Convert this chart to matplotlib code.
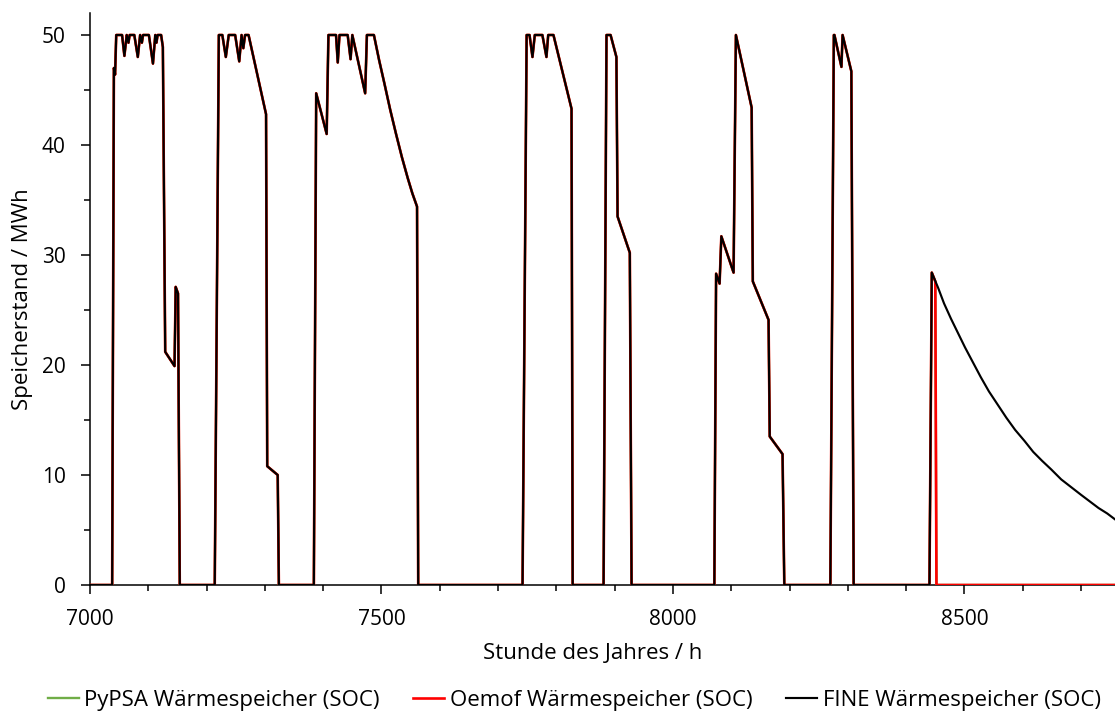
import matplotlib.pyplot as plt
from matplotlib.ticker import MultipleLocator

plt.rcParams['font.family'] = ['Open Sans', 'DejaVu Sans']

# ── Gemeinsamer Verlauf aller Modelle (Stunde, SOC in MWh) ───────────
stunden = [7000, 7038, 7041, 7043, 7045, 7055, 7059, 7063, 7066, 7068,
           7076, 7082, 7086, 7089, 7091, 7101, 7108, 7112, 7114, 7116,
           7122, 7125, 7129, 7145, 7147, 7151, 7154,
           7214, 7221, 7227, 7233, 7238, 7249, 7256, 7260, 7263, 7266,
           7272, 7302, 7304, 7322, 7324,
           7384, 7388, 7406, 7409, 7422, 7425, 7428, 7442, 7447, 7450,
           7472, 7475, 7487, 7496, 7505, 7515, 7525, 7535, 7545, 7553,
           7561, 7563,
           7742, 7749, 7754, 7759, 7763, 7776, 7783, 7786, 7795, 7826, 7828,
           7881, 7886, 7893, 7903, 7905, 7926, 7929,
           8071, 8074, 8080, 8083, 8104, 8108, 8135, 8137, 8164, 8166,
           8188, 8191,
           8270, 8276, 8277, 8289, 8291, 8306, 8310,
           8440]
soc = [0, 0, 47.0, 46.4, 50, 50, 48.1, 50, 49.3, 50,
       50, 48.0, 50, 49.3, 50, 50, 47.4, 50, 49.3, 50,
       50, 48.9, 21.2, 19.9, 27.1, 26.5, 0,
       0, 50, 50, 48.0, 50, 50, 47.6, 50, 48.8, 50,
       50, 42.8, 10.8, 10.0, 0,
       0, 44.7, 41.0, 50, 50, 47.5, 50, 50, 47.8, 50,
       44.7, 50, 50, 47.7, 45.6, 43.2, 41.0, 38.9, 37.0, 35.6,
       34.4, 0,
       0, 50, 50, 48.0, 50, 50, 48.0, 50, 50, 43.3, 0,
       0, 50, 50, 48.0, 33.5, 30.2, 0,
       0, 28.3, 27.4, 31.7, 28.4, 50, 43.4, 27.6, 24.1, 13.5,
       11.9, 0,
       0, 50, 50, 47.1, 50, 46.7, 0,
       0]

# ── Jahresende: FINE entlädt langsam, Oemof/PyPSA gehen auf 0 ────────
fine_end_h = [8444, 8455, 8465, 8477, 8489, 8501, 8514, 8528, 8542, 8557,
              8572, 8587, 8603, 8618, 8633, 8649, 8666, 8683, 8700, 8715,
              8730, 8745, 8760]
fine_end_soc = [28.4, 27.0, 25.6, 24.2, 22.9, 21.6, 20.3, 18.9, 17.6, 16.4,
                15.2, 14.1, 13.1, 12.1, 11.3, 10.5, 9.6, 8.9, 8.2, 7.6,
                7.0, 6.5, 5.9]

oemof_end_h = [8444, 8450, 8452, 8760]
oemof_end_soc = [28.4, 27.6, 0, 0]

pypsa_end_h = [8444, 8450, 8452, 8760]
pypsa_end_soc = [28.4, 27.6, 0, 0]

fig = plt.figure(figsize=(11.15, 7.16), dpi=100)
ax = fig.add_axes([90 / 1115, 131 / 716, 1026 / 1115, 572 / 716])

ax.plot(stunden + pypsa_end_h, soc + pypsa_end_soc, color='#70AD47',
        lw=1.7, label='PyPSA Wärmespeicher (SOC)', zorder=2)
ax.plot(stunden + oemof_end_h, soc + oemof_end_soc, color='#FF0000',
        lw=1.9, label='Oemof Wärmespeicher (SOC)', zorder=3)
ax.plot(stunden + fine_end_h, soc + fine_end_soc, color='#000000',
        lw=1.55, label='FINE Wärmespeicher (SOC)', zorder=4)

ax.set_xlim(7000, 8760)
ax.set_ylim(0, 52)
ax.xaxis.set_major_locator(MultipleLocator(500))
ax.xaxis.set_minor_locator(MultipleLocator(100))
ax.yaxis.set_major_locator(MultipleLocator(10))
ax.yaxis.set_minor_locator(MultipleLocator(5))

for s in ['top', 'right']:
    ax.spines[s].set_visible(False)
for s in ['left', 'bottom']:
    ax.spines[s].set_linewidth(1.1)
    ax.spines[s].set_zorder(1)

ax.tick_params(axis='both', which='major', length=6.5, width=1.1,
               labelsize=15, pad=11, color='black')
ax.tick_params(axis='both', which='minor', length=4, width=1.1)

ax.set_xlabel('Stunde des Jahres / h', fontsize=16)
ax.set_ylabel('Speicherstand / MWh', fontsize=16)
ax.xaxis.set_label_coords(0.49, -0.102)
ax.yaxis.set_label_coords(-0.056, 0.5)

fig.legend(loc='center', bbox_to_anchor=(0.515, 0.022), ncol=3,
           frameon=False, fontsize=16, handlelength=1.4,
           handletextpad=0.25, columnspacing=1.5)

fig.savefig('out.png', dpi=100)
